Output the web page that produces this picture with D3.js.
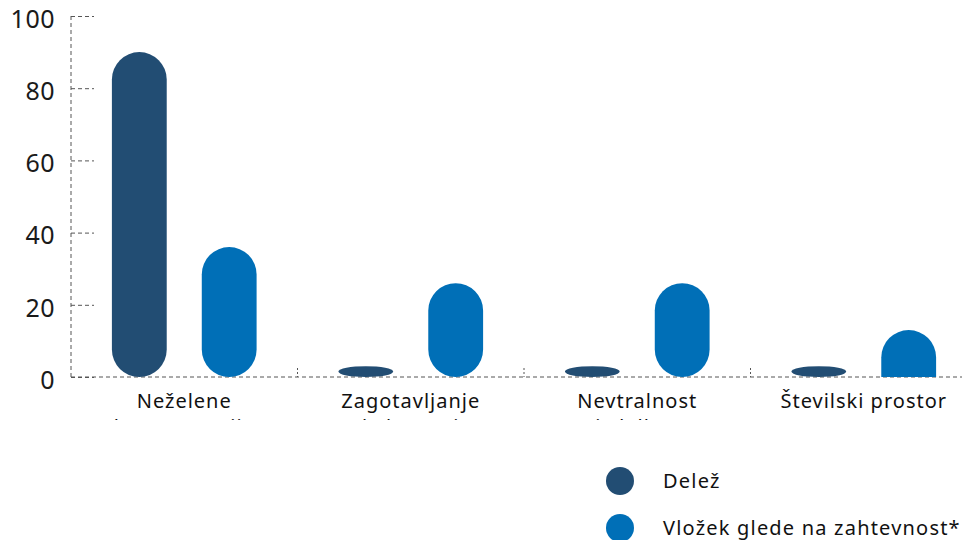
<!DOCTYPE html>
<html>
<head>
<meta charset="utf-8">
<script src="https://cdn.jsdelivr.net/npm/d3@7"></script>
<style>
  body { margin: 0; background: #fff; }
  svg { display: block; font-family: "Noto Sans", sans-serif; }
</style>
</head>
<body>
<svg id="chart" width="962" height="540"></svg>
<script>
// data
var categories = ["Neželene kompenzacije", "Zagotavljanje kakovosti", "Nevtralnost izdelkov", "Številski prostor"];
var seriesNames = ["Delež", "Vložek glede na zahtevnost*"];
var delez = [90, 3, 3, 3];
var vlozek = [36, 26, 26, 13];
var yTicks = [0, 20, 40, 60, 80, 100];
var colors = ["#224d73", "#006fb7"];

var svg = d3.select("#chart");

var mLeft = 71, mRight = 977, mTop = 16, mBottom = 377;

var scX = d3.scaleBand().domain(categories).range([mLeft, mRight]);
var scX1 = d3.scaleBand().domain(seriesNames).range([0, scX.bandwidth()])
  .paddingInner(0.39).paddingOuter(0.455);
var scY = d3.scaleLinear().domain([0, 100]).range([mBottom, mTop]);

var dash = "4,3";

// y axis
var gy = svg.append("g")
  .attr("transform", "translate(" + mLeft + ",0)")
  .call(d3.axisRight(scY).tickValues(yTicks).tickSize(23).tickFormat(d3.format("d")));
gy.select(".domain").remove();
gy.selectAll(".tick line").attr("stroke", "#555").attr("stroke-dasharray", dash);
gy.selectAll(".tick text")
  .attr("text-anchor", "end").attr("x", -16).attr("dy", "0.45em")
  .attr("font-size", 25).attr("fill", "#1a1a1a")
  .attr("font-family", "'Noto Sans', sans-serif")
  .attr("letter-spacing", 0.5);
svg.append("line")
  .attr("x1", mLeft).attr("x2", mLeft).attr("y1", mTop).attr("y2", mBottom)
  .attr("stroke", "#555").attr("stroke-dasharray", dash);

// x axis
svg.append("line")
  .attr("x1", mLeft).attr("x2", 962).attr("y1", mBottom).attr("y2", mBottom)
  .attr("stroke", "#555").attr("stroke-dasharray", dash);
svg.selectAll("line.sep").data(categories.slice(1)).enter()
  .append("line").attr("class", "sep")
  .attr("x1", d => scX(d)).attr("x2", d => scX(d))
  .attr("y1", mBottom - 9).attr("y2", mBottom)
  .attr("stroke", "#555").attr("stroke-dasharray", "2,2");

// category labels, wrapped and clipped like the original
svg.append("clipPath").attr("id", "lblclip")
  .append("rect").attr("x", 0).attr("y", mBottom).attr("width", 962).attr("height", 43);
var lbl = svg.append("g").attr("clip-path", "url(#lblclip)");
categories.forEach(function(c) {
  var words = c.split(" ");
  var lines = c.length > 18 ? [words[0], words.slice(1).join(" ")] : [c];
  var t = lbl.append("text")
    .attr("x", scX(c) + scX.bandwidth() / 2)
    .attr("y", mBottom + 31)
    .attr("text-anchor", "middle")
    .attr("font-size", 20).attr("letter-spacing", 1).attr("fill", "#111");
  lines.forEach(function(l, i) {
    t.append("tspan").attr("x", scX(c) + scX.bandwidth() / 2)
      .attr("dy", i ? 26 : 0).text(l);
  });
});

// rounded bars
function pill(x, y, w, h) {
  var r = w / 2;
  if (h >= 2 * r) {
    return "M" + x + "," + (y + r) + " A" + r + "," + r + " 0 0 1 " + (x + w) + "," + (y + r) +
      " L" + (x + w) + "," + (y + h - r) + " A" + r + "," + r + " 0 0 1 " + x + "," + (y + h - r) + " Z";
  } else if (h >= r) {
    return "M" + x + "," + (y + r) + " A" + r + "," + r + " 0 0 1 " + (x + w) + "," + (y + r) +
      " L" + (x + w) + "," + (y + h) + " L" + x + "," + (y + h) + " Z";
  }
  var ry = h / 2;
  return "M" + x + "," + (y + ry) + " A" + r + "," + ry + " 0 0 1 " + (x + w) + "," + (y + ry) +
    " A" + r + "," + ry + " 0 0 1 " + x + "," + (y + ry) + " Z";
}

var series = [delez, vlozek];
series.forEach(function(vals, si) {
  svg.append("g").selectAll("path").data(vals).enter()
    .append("path")
    .attr("fill", colors[si])
    .attr("d", function(d, i) {
      var x = scX(categories[i]) + scX1(seriesNames[si]);
      return pill(x, scY(d), scX1.bandwidth(), scY(0) - scY(d));
    });
});

// legend
var leg = svg.append("g").selectAll("g").data(seriesNames).enter()
  .append("g").attr("transform", (d, i) => "translate(620," + (481 + i * 47) + ")");
leg.append("circle").attr("r", 14).attr("fill", (d, i) => colors[i]);
leg.append("text").attr("x", 43).attr("dy", "0.35em")
  .attr("font-size", 20).attr("letter-spacing", 1.2).attr("fill", "#111").text(d => d);
</script>
</body>
</html>
